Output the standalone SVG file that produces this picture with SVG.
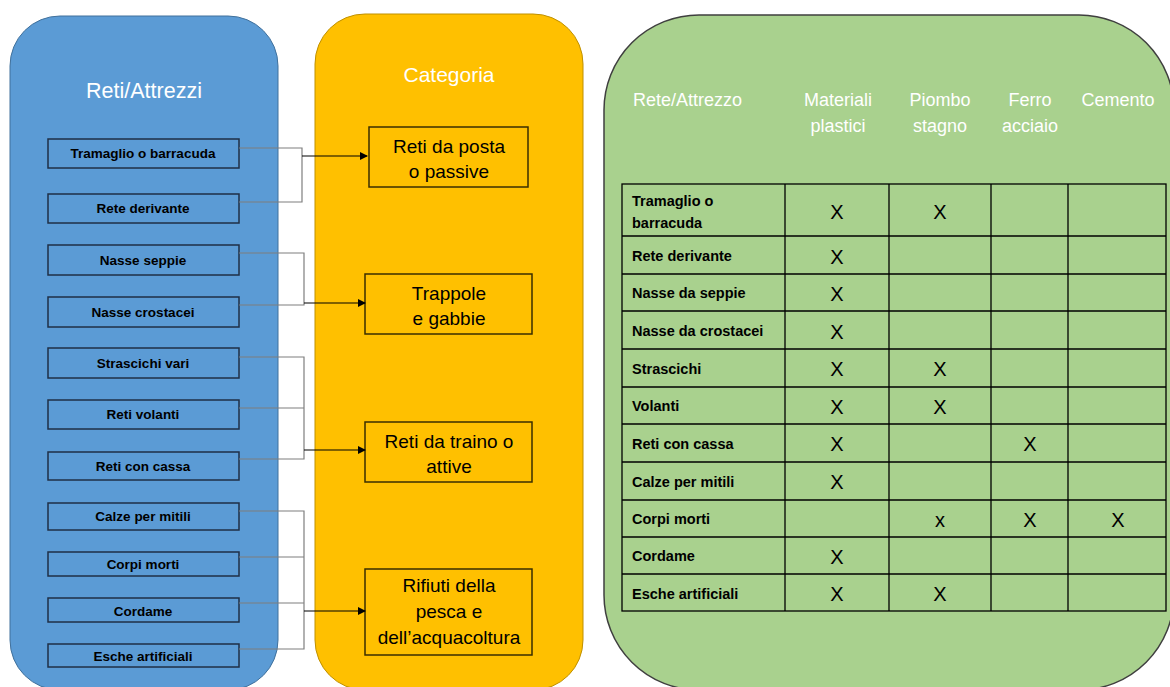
<svg xmlns="http://www.w3.org/2000/svg" width="1170" height="687" viewBox="0 0 1170 687">
<defs>
<marker id="arr" markerWidth="8" markerHeight="8" refX="7" refY="4" orient="auto" markerUnits="userSpaceOnUse">
<path d="M0,0 L8,4 L0,8 Z" fill="#000"/>
</marker>
<style>
.item rect{fill:#5b9bd5;stroke:#1f2f45;stroke-width:1.5}
.item text{font-family:"Liberation Sans",Arial,sans-serif;font-weight:bold;font-size:13.5px;fill:#000;text-anchor:middle}
.cat rect{fill:#ffc000;stroke:#3a2e00;stroke-width:1.5}
.cat text{font-family:"Liberation Sans",Arial,sans-serif;font-size:19px;fill:#000;text-anchor:middle}
.hdr{font-family:"Liberation Sans",Arial,sans-serif;fill:#fff}
.th{font-family:"Liberation Sans",Arial,sans-serif;font-size:18px;fill:#fff;text-anchor:middle}
.cell{fill:none;stroke:#000;stroke-width:1.3}
.rl{font-family:"Liberation Sans",Arial,sans-serif;font-weight:bold;font-size:14.5px;fill:#000}
.x{font-family:"Liberation Sans",Arial,sans-serif;font-size:20px;fill:#000;text-anchor:middle}
.br{fill:none;stroke:#7f7f7f;stroke-width:1.2}
.ar{fill:none;stroke:#000;stroke-width:1.2}
</style>
</defs>
<rect width="1170" height="687" fill="#fff"/>

<g id="panel-reti">
<rect x="10" y="16" width="268" height="674" rx="50" fill="#5b9bd5" stroke="#41719c" stroke-width="1"/>
<text class="hdr" x="144" y="98" font-size="21.5" text-anchor="middle">Reti/Attrezzi</text>
</g>
<g id="panel-categoria">
<rect x="315" y="14" width="268" height="676" rx="50" fill="#ffc000" stroke="#bf9000" stroke-width="1"/>
<text class="hdr" x="449" y="82" font-size="21" text-anchor="middle">Categoria</text>
</g>
<g id="panel-tabella">
<rect x="604" y="15" width="570" height="675" rx="95" fill="#a9d18e" stroke="#3f3f3f" stroke-width="1.5"/>
<text class="hdr" x="633" y="106" font-size="18">Rete/Attrezzo</text>
<text class="th" x="838" y="106">Materiali</text>
<text class="th" x="838" y="132">plastici</text>
<text class="th" x="940" y="106">Piombo</text>
<text class="th" x="940" y="132">stagno</text>
<text class="th" x="1030" y="106">Ferro</text>
<text class="th" x="1030" y="132">acciaio</text>
<text class="th" x="1118" y="106">Cemento</text>
</g>

<g id="item-tramaglio" class="item"><rect x="48" y="139" width="191" height="29"/><text x="143" y="158">Tramaglio o barracuda</text></g>
<g id="item-rete-derivante" class="item"><rect x="48" y="194" width="191" height="29"/><text x="143" y="213">Rete derivante</text></g>
<g id="item-nasse-seppie" class="item"><rect x="48" y="245" width="191" height="30"/><text x="143" y="265">Nasse seppie</text></g>
<g id="item-nasse-crostacei" class="item"><rect x="48" y="297" width="191" height="30"/><text x="143" y="317">Nasse crostacei</text></g>
<g id="item-strascichi" class="item"><rect x="48" y="348" width="191" height="30"/><text x="143" y="368">Strascichi vari</text></g>
<g id="item-reti-volanti" class="item"><rect x="48" y="400" width="191" height="29"/><text x="143" y="419">Reti volanti</text></g>
<g id="item-reti-cassa" class="item"><rect x="48" y="452" width="191" height="28"/><text x="143" y="471">Reti con cassa</text></g>
<g id="item-calze" class="item"><rect x="48" y="503" width="191" height="27"/><text x="143" y="521">Calze per mitili</text></g>
<g id="item-corpi-morti" class="item"><rect x="48" y="552" width="191" height="24"/><text x="143" y="569">Corpi morti</text></g>
<g id="item-cordame" class="item"><rect x="48" y="598" width="191" height="24"/><text x="143" y="616">Cordame</text></g>
<g id="item-esche" class="item"><rect x="48" y="644" width="191" height="23"/><text x="143" y="661">Esche artificiali</text></g>

<g id="cat-posta" class="cat"><rect x="369" y="127" width="159" height="60"/><text x="449" y="153">Reti da posta</text><text x="449" y="178">o passive</text></g>
<g id="cat-trappole" class="cat"><rect x="365" y="274" width="167" height="60"/><text x="449" y="300">Trappole</text><text x="449" y="325">e gabbie</text></g>
<g id="cat-traino" class="cat"><rect x="365" y="422" width="167" height="60"/><text x="449" y="448">Reti da traino o</text><text x="449" y="473">attive</text></g>
<g id="cat-rifiuti" class="cat"><rect x="365" y="569" width="167" height="86"/><text x="449" y="592">Rifiuti della</text><text x="449" y="618">pesca e</text><text x="449" y="644">dell’acquacoltura</text></g>

<g id="connectors">
<path class="br" d="M239,148 H302 V202 H239"/>
<path class="ar" d="M302,156 H367" marker-end="url(#arr)"/>
<path class="br" d="M239,253 H304 V305 H239"/>
<path class="ar" d="M304,303 H365" marker-end="url(#arr)"/>
<path class="br" d="M239,357 H304 V459 H239 M239,408 H304"/>
<path class="ar" d="M304,450 H365" marker-end="url(#arr)"/>
<path class="br" d="M239,511 H304 V649 H239 M239,557 H304 M239,603 H304"/>
<path class="ar" d="M304,611 H365" marker-end="url(#arr)"/>
</g>

<g id="table">
<rect class="cell" x="622" y="184" width="544" height="427"/>
<path class="cell" d="M785,184 V611 M889,184 V611 M991,184 V611 M1068,184 V611
M622,236 H1166 M622,274 H1166 M622,311 H1166 M622,349 H1166 M622,387 H1166 M622,424 H1166 M622,462 H1166 M622,500 H1166 M622,537 H1166 M622,574 H1166"/>
<text class="rl" x="632" y="206">Tramaglio o</text>
<text class="rl" x="632" y="228">barracuda</text>
<text class="rl" x="632" y="261">Rete derivante</text>
<text class="rl" x="632" y="298">Nasse da seppie</text>
<text class="rl" x="632" y="336">Nasse da crostacei</text>
<text class="rl" x="632" y="374">Strascichi</text>
<text class="rl" x="632" y="411">Volanti</text>
<text class="rl" x="632" y="449">Reti con cassa</text>
<text class="rl" x="632" y="487">Calze per mitili</text>
<text class="rl" x="632" y="524">Corpi morti</text>
<text class="rl" x="632" y="561">Cordame</text>
<text class="rl" x="632" y="599">Esche artificiali</text>

<text class="x" x="837" y="219">X</text><text class="x" x="940" y="219">X</text>
<text class="x" x="837" y="264">X</text>
<text class="x" x="837" y="301">X</text>
<text class="x" x="837" y="339">X</text>
<text class="x" x="837" y="376">X</text><text class="x" x="940" y="376">X</text>
<text class="x" x="837" y="414">X</text><text class="x" x="940" y="414">X</text>
<text class="x" x="837" y="451">X</text><text class="x" x="1030" y="451">X</text>
<text class="x" x="837" y="489">X</text>
<text class="x" x="940" y="527" font-size="18">x</text><text class="x" x="1030" y="527">X</text><text class="x" x="1118" y="527">X</text>
<text class="x" x="837" y="564">X</text>
<text class="x" x="837" y="601">X</text><text class="x" x="940" y="601">X</text>
</g>
</svg>
